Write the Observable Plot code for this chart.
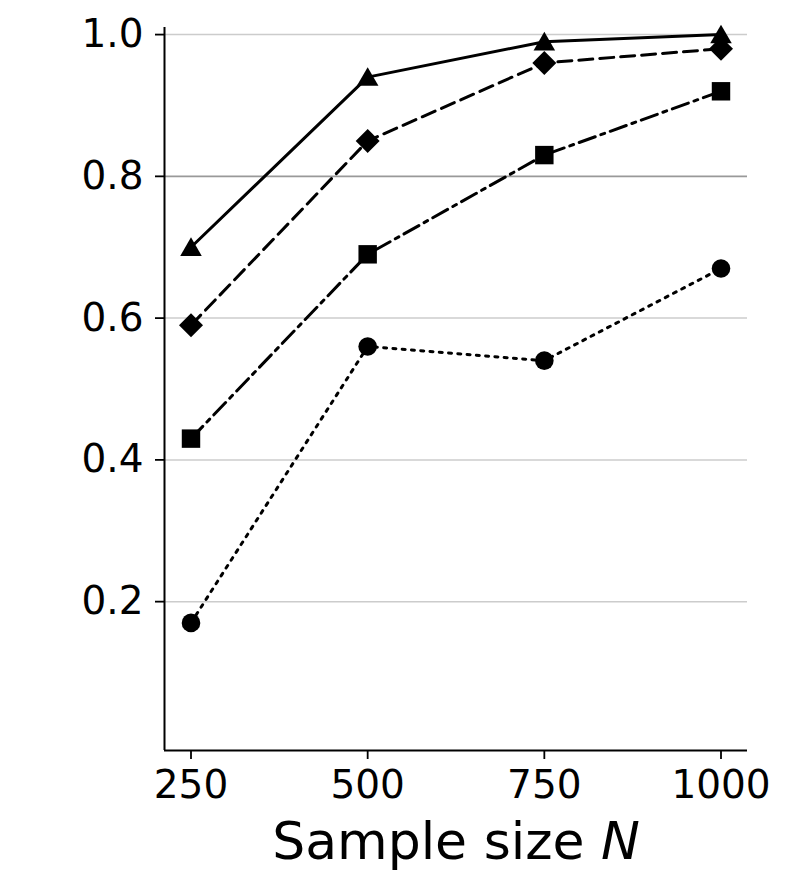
<!DOCTYPE html>
<html>
<head>
<meta charset="utf-8">
<script src="https://cdn.jsdelivr.net/npm/d3@7"></script>
<script src="https://cdn.jsdelivr.net/npm/@observablehq/plot@0.6"></script>
<style>
  html, body { margin: 0; padding: 0; background: white; }
</style>
</head>
<body>
<div id="chart"></div>
<script>
// ---- data ----
const sampleSizes = [250, 500, 750, 1000];
const triangleSeries = [0.70, 0.94, 0.99, 1.00];
const diamondSeries = [0.59, 0.85, 0.96, 0.98];
const squareSeries = [0.43, 0.69, 0.83, 0.92];
const circleSeries = [0.17, 0.56, 0.54, 0.67];
const xTicks = [250, 500, 750, 1000];
const yTicks = [0.2, 0.4, 0.6, 0.8, 1.0];
const referenceLevel = [0.8];
const xDomain = [212.5, 1037.5];
const yDomain = [-0.01, 1.01];
const xLabel = "Sample size N";

const toRows = (vals) => sampleSizes.map((n, i) => ({n, v: vals[i]}));
const tri = toRows(triangleSeries);
const dia = toRows(diamondSeries);
const sq = toRows(squareSeries);
const circ = toRows(circleSeries);

const lw = 3;
const chart = Plot.plot({
  width: 792,
  height: 893,
  marginLeft: 164,
  marginRight: 45,
  marginTop: 27,
  marginBottom: 143,
  style: {fontFamily: "DejaVu Sans", fontSize: "39px", color: "black", background: "white"},
  x: {domain: xDomain},
  y: {domain: yDomain},
  marks: [
    Plot.ruleY(yTicks.filter(t => !referenceLevel.includes(t)), {stroke: "#cccccc", strokeWidth: 1.5}),
    Plot.ruleY(referenceLevel, {stroke: "#999999", strokeWidth: 1.8}),
    Plot.axisX({ticks: xTicks, tickSize: 9, tickPadding: 11, strokeWidth: 1.8, label: null, tickFormat: d => String(d)}),
    Plot.axisY({ticks: yTicks, tickSize: 9, tickPadding: 12, strokeWidth: 1.8, label: null, tickFormat: d3.format(".1f")}),
    Plot.ruleX([xDomain[0]], {stroke: "black", strokeWidth: 2}),
    Plot.ruleY([yDomain[0]], {stroke: "black", strokeWidth: 2}),
    Plot.line(circ, {x: "n", y: "v", stroke: "black", strokeWidth: lw, strokeDasharray: "3,6.3"}),
    Plot.line(sq, {x: "n", y: "v", stroke: "black", strokeWidth: lw, strokeDasharray: "17,6,4,6"}),
    Plot.line(dia, {x: "n", y: "v", stroke: "black", strokeWidth: lw, strokeDasharray: "14,7"}),
    Plot.line(tri, {x: "n", y: "v", stroke: "black", strokeWidth: lw}),
    Plot.dot(circ, {x: "n", y: "v", symbol: "circle", r: 9.3, fill: "black"}),
    Plot.dot(sq, {x: "n", y: "v", symbol: "square", r: 10.4, fill: "black"}),
    Plot.dot(tri, {x: "n", y: "v", symbol: "triangle", r: 8, dy: 2.5, fill: "black"}),
    Plot.dot(dia, {x: "n", y: "v", symbol: "diamond2", r: 10.8, fill: "black"}),
    Plot.text([xLabel], {frameAnchor: "bottom", dy: 108, lineAnchor: "bottom", fontSize: 52, fill: "black", text: d => d})
  ]
});

// italicize the "N" in the axis label
chart.querySelectorAll("text").forEach(t => {
  if (t.textContent === xLabel) {
    t.textContent = "Sample size ";
    const ts = document.createElementNS("http://www.w3.org/2000/svg", "tspan");
    ts.setAttribute("font-style", "italic");
    ts.textContent = "N";
    t.appendChild(ts);
  }
});

document.getElementById("chart").appendChild(chart);
</script>
</body>
</html>
